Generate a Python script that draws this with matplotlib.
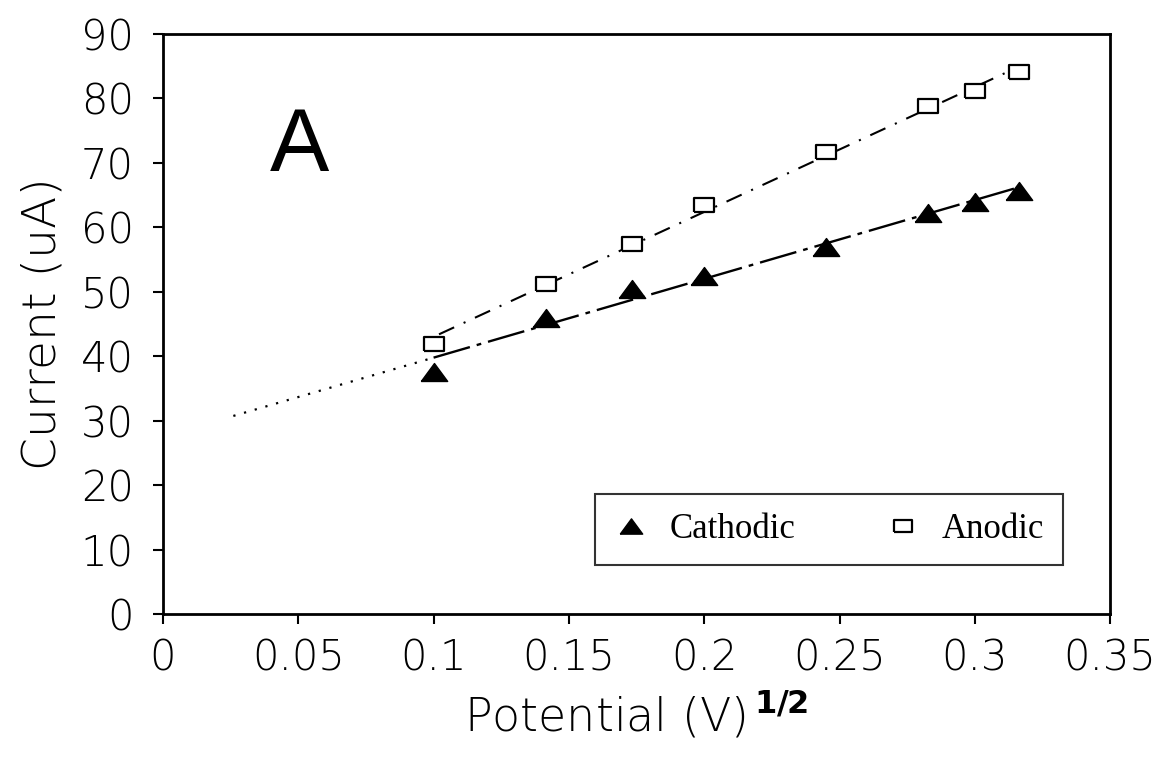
import numpy as np
import matplotlib
matplotlib.use("Agg")
import matplotlib.pyplot as plt

# sweep points, sqrt of scan rate (V)^1/2
sqrt_rate = [0.1, 0.1414, 0.1732, 0.2, 0.2449, 0.2828, 0.3, 0.3162]
cathodic = [37.6, 46.0, 50.5, 52.5, 57.0, 62.3, 64.0, 65.6]
anodic = [41.9, 51.2, 57.5, 63.5, 71.7, 78.8, 81.2, 84.1]

x_ticks = [0, 0.05, 0.1, 0.15, 0.2, 0.25, 0.3, 0.35]
y_ticks = [0, 10, 20, 30, 40, 50, 60, 70, 80, 90]

# flattened triangle and rectangle markers
tri = [(-1, -0.68), (1, -0.68), (0, 0.68), (-1, -0.68)]
rect = [(-1, -0.65), (1, -0.65), (1, 0.65), (-1, 0.65), (-1, -0.65)]

plt.rcParams["font.family"] = ["DejaVu Sans"]

fig = plt.figure(figsize=(11.6, 7.61), dpi=100)
ax = fig.add_axes([0.1405, 0.193, 0.8165, 0.7623])

x = np.array(sqrt_rate)

# linear fits
kc = np.polyfit(x, cathodic, 1)
ka = np.polyfit(x, anodic, 1)

xe = np.linspace(0.026, x[0], 20)
ax.plot(xe, np.polyval(kc, xe), color="black", lw=1.6, ls=(0, (1, 4)))
xc = np.linspace(x[0], x[-1], 50)
ax.plot(xc, np.polyval(kc, xc), color="black", lw=1.7, ls=(0, (16, 3, 2, 3)))
xa = np.linspace(0.102, x[-1], 50)
ax.plot(xa, np.polyval(ka, xa), color="black", lw=1.5, ls=(0, (8, 5, 1, 5)))

ax.plot(x, cathodic, ls="none", marker=tri, ms=19, color="black",
        label="Cathodic")
ax.plot(x, anodic, ls="none", marker=rect, ms=15, mfc="white",
        mec="black", mew=1.6, label="Anodic")

ax.text(0.0506, 72.3, "A", fontsize=64, ha="center", va="center",
        family=["Liberation Sans", "DejaVu Sans"])

ax.set_xlim(0, 0.35)
ax.set_ylim(0, 90)
ax.set_xticks(x_ticks)
ax.set_xticklabels(["0", "0.05", "0.1", "0.15", "0.2", "0.25", "0.3", "0.35"])
ax.set_yticks(y_ticks)
ax.set_yticklabels([str(v) for v in y_ticks])

for s in ax.spines.values():
    s.set_linewidth(2)
ax.tick_params(direction="out", length=7, width=1.5, labelsize=30,
               colors="black")
ax.tick_params(axis="x", pad=10)
ax.tick_params(axis="y", pad=14)
for lbl in ax.get_xticklabels() + ax.get_yticklabels():
    lbl.set_fontweight("light")

ax.set_ylabel("Current (uA)", fontsize=34, labelpad=12, fontweight="light")
ax.set_xlabel(r"Potential (V)$^{\,\mathbf{1/2}}$", fontsize=33, labelpad=6,
              fontweight="light")

leg = ax.legend(ncol=2, loc="lower right", bbox_to_anchor=(0.950, 0.0845),
                frameon=True, fancybox=False, edgecolor="black",
                prop={"family": ["Liberation Serif", "DejaVu Serif"], "size": 25},
                markerscale=0.85, handlelength=1.0, columnspacing=2.6,
                handletextpad=0.6, borderpad=0.55, borderaxespad=0)
leg.get_frame().set_linewidth(1.5)

fig.savefig("out.png", dpi=100)
